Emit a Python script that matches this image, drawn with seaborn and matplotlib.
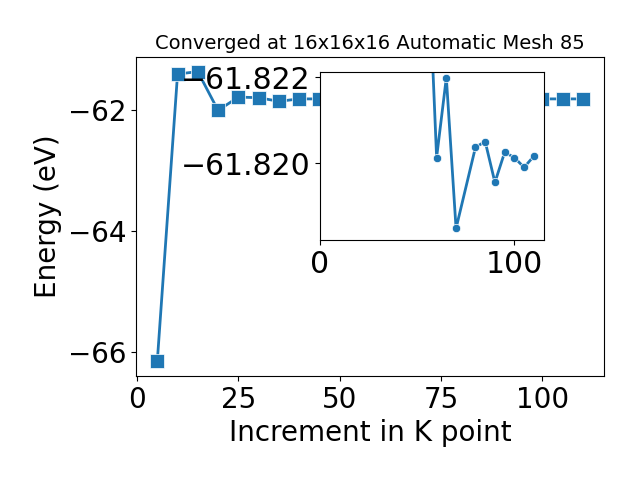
import numpy as np
import pandas as pd
import matplotlib
matplotlib.use('Agg')
import matplotlib.pyplot as plt
import seaborn as sns

# k-point increment vs total energy (eV)
kpoints = [5, 10, 15, 20, 25, 30, 35, 40, 45, 50, 55, 60, 65, 70,
           80, 85, 90, 95, 100, 105, 110]
energy = [-66.15, -61.41, -61.37, -62.01, -61.79, -61.80, -61.86, -61.82,
          -61.82, -61.83, -61.8255, -61.82013, -61.82199, -61.81848,
          -61.82037, -61.82050, -61.81955, -61.82025, -61.82013,
          -61.81990, -61.82016]

df = pd.DataFrame({'k': kpoints, 'E': energy})
df_zoom = df[df.k >= 55]  # inset only shows the tail

fig = plt.figure(figsize=(6.4, 4.8), dpi=100)
ax = fig.add_axes([0.2125, 0.2167, 0.7315, 0.6643])
sns.lineplot(data=df, x='k', y='E', marker='s', markersize=10,
             linewidth=2, color='#1f77b4', mew=0.5, ax=ax)
ax.set_yticks([-66, -64, -62])
ax.set_xticks([0, 25, 50, 75, 100])
ax.tick_params(labelsize=20)
ax.set_xlabel('Increment in K point', fontsize=20)
ax.set_ylabel('Energy (eV)', fontsize=20)
ax.set_title('Converged at 16x16x16 Automatic Mesh 85', fontsize=14)

# zoomed inset
ax2 = fig.add_axes([0.5, 0.5, 0.35, 0.35])
sns.lineplot(data=df_zoom, x='k', y='E', marker='o', markersize=6,
             linewidth=2, color='#1f77b4', mew=0.5, ax=ax2)
ax2.set_xlim(0, 115.25)
ax2.set_ylim(-61.81821, -61.82212)
ax2.set_xticks([0, 100])
ax2.set_yticks([-61.822, -61.820])
ax2.ticklabel_format(axis='y', useOffset=False)
ax2.tick_params(labelsize=21.5)
ax2.set_xlabel('')
ax2.set_ylabel('')

plt.savefig('out.png', dpi=100)
